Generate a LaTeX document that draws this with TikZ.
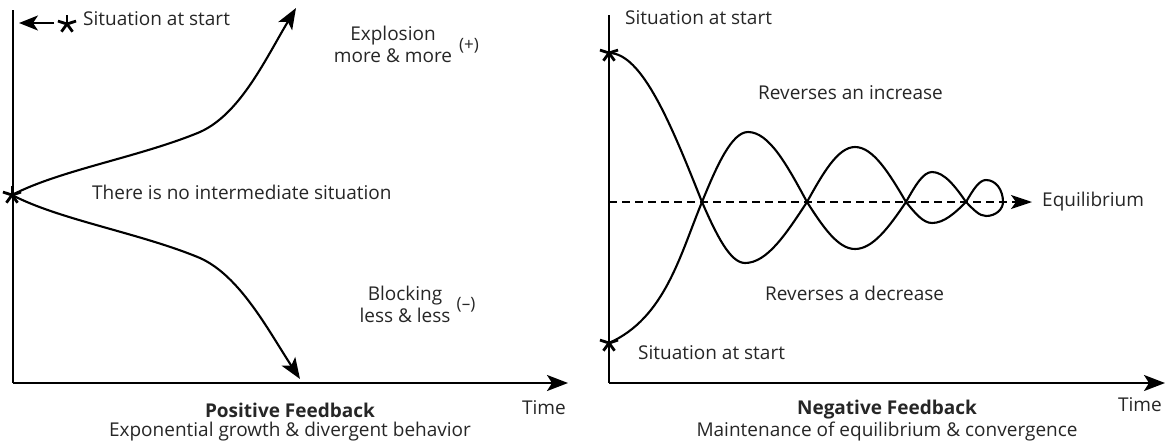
\documentclass[tikz,border=0pt]{standalone}
\usepackage{fontspec}
\setmainfont{Open Sans}
\usetikzlibrary{arrows.meta}

\tikzset{
  axisline/.style={line width=2pt},
  axisarrow/.style={line width=2pt,-{Stealth[length=21pt,width=16pt,inset=5pt]}},
  curve/.style={line width=2.1pt},
  curvearrow/.style={line width=2.1pt,-{Stealth[length=21pt,width=16pt,inset=5pt]}},
  lbl/.style={font=\fontsize{19}{22}\selectfont, inner sep=0pt, text=black!85},
  sign/.style={font=\fontsize{17}{19}\selectfont, inner sep=0pt, text=black!85},
  astk/.pic={\foreach \a in {90,162,18,234,306} \draw[line width=2.8pt] (0,0) -- (\a:9.5pt);}
}

\begin{document}
\begin{tikzpicture}[x=1pt,y=-1pt]
\useasboundingbox (0,0) rectangle (1166,445);

%--------------------------------------------------------
% positive feedback
\coordinate (ltop) at (13,10);
\coordinate (lorig) at (13,383);
\coordinate (lend) at (568,383);
\draw[axisline] (ltop) -- (lorig);
\draw[axisarrow] (lorig) -- (lend);

\coordinate (pstart) at (12,195);
\coordinate (pup) at (296,8);
\coordinate (pdown) at (300,379);
\draw[curvearrow] (pstart) .. controls (60,170) and (140,157) .. (200,132)
                           .. controls (240,114) and (265,60) .. (pup);
\draw[curvearrow] (pstart) .. controls (60,220) and (140,233) .. (200,258)
                           .. controls (240,276) and (268,330) .. (pdown);
\pic at (pstart) {astk};

\coordinate (starttail) at (54,23);
\coordinate (starttip) at (19,23);
\draw[line width=2pt,-{Stealth[length=19pt,width=15pt,inset=5pt]}] (starttail) -- (starttip);
\pic at (67,24) {astk};
\node[lbl,anchor=west] (pstarttxt) at (83,19) {Situation at start};

\node[lbl,align=center] (explo) at (393,44) {Explosion\\more \& more};
\node[sign] (plus) at (469,46) {(+)};
\node[lbl,anchor=west] (nomid) at (92,192) {There is no intermediate situation};
\node[lbl,align=center] (block) at (405,304) {Blocking\\less \& less};
\node[sign] (minus) at (466,305) {(--)};

\node[lbl,anchor=east] (ltime) at (566,408) {Time};
\node[lbl,font=\fontsize{19}{22}\selectfont\bfseries] (ptitle) at (290,410) {Positive Feedback};
\node[lbl] (psub) at (290,432) {Exponential growth \& divergent behavior};

%--------------------------------------------------------
% negative feedback
\coordinate (rtop) at (609,15);
\coordinate (rorig) at (609,383);
\coordinate (rend) at (1165,383);
\draw[axisline] (rtop) -- (rorig);
\draw[axisarrow] (rorig) -- (rend);

\coordinate (equi) at (609,202);
\coordinate (equiend) at (1032,202);
\draw[line width=1.7pt,dash pattern=on 8pt off 5pt,-{Stealth[length=21pt,width=14pt,inset=5pt]}] (equi) -- (equiend);

\coordinate (na) at (609,53);
\coordinate (nb) at (609,343);
\coordinate (nend) at (1003,202);
% from above
\draw[curve] (na) .. controls (642,53) and (671,124) .. (702,202)
  .. controls (716,234) and (730,263) .. (745,263)
  .. controls (767,263) and (786,234) .. (807,202)
  .. controls (823,173) and (838,147) .. (855,147)
  .. controls (873,147) and (889,173) .. (906,202)
  .. controls (915,213) and (923,223) .. (932,223)
  .. controls (944,223) and (955,213) .. (966,202)
  .. controls (973,190) and (979,180) .. (986,180)
  .. controls (996,180) and (1003,190) .. (nend);
% from below
\draw[curve] (nb) .. controls (665,318) and (680,255) .. (702,202)
  .. controls (717,165) and (732,132) .. (748,132)
  .. controls (769,132) and (787,165) .. (807,202)
  .. controls (823,227) and (838,249) .. (855,249)
  .. controls (873,249) and (889,227) .. (906,202)
  .. controls (915,186) and (923,172) .. (932,172)
  .. controls (944,172) and (955,186) .. (966,202)
  .. controls (973,209) and (979,216) .. (986,216)
  .. controls (996,216) and (1003,209) .. (nend);
\pic at (na) {astk};
\pic at (nb) {astk};

\node[lbl,anchor=west] (ntoptxt) at (625,18) {Situation at start};
\node[lbl,anchor=west] (nbottxt) at (638,353) {Situation at start};
\node[lbl,anchor=west] (incr) at (758,93) {Reverses an increase};
\node[lbl,anchor=west] (decr) at (765,293) {Reverses a decrease};
\node[lbl,anchor=west] (equitxt) at (1042,202) {Equilibrium};

\node[lbl,anchor=east] (rtime) at (1162,405) {Time};
\node[lbl,font=\fontsize{19}{22}\selectfont\bfseries] (ntitle) at (887,410) {Negative Feedback};
\node[lbl] (nsub) at (887,432) {Maintenance of equilibrium \& convergence};
\end{tikzpicture}
\end{document}
